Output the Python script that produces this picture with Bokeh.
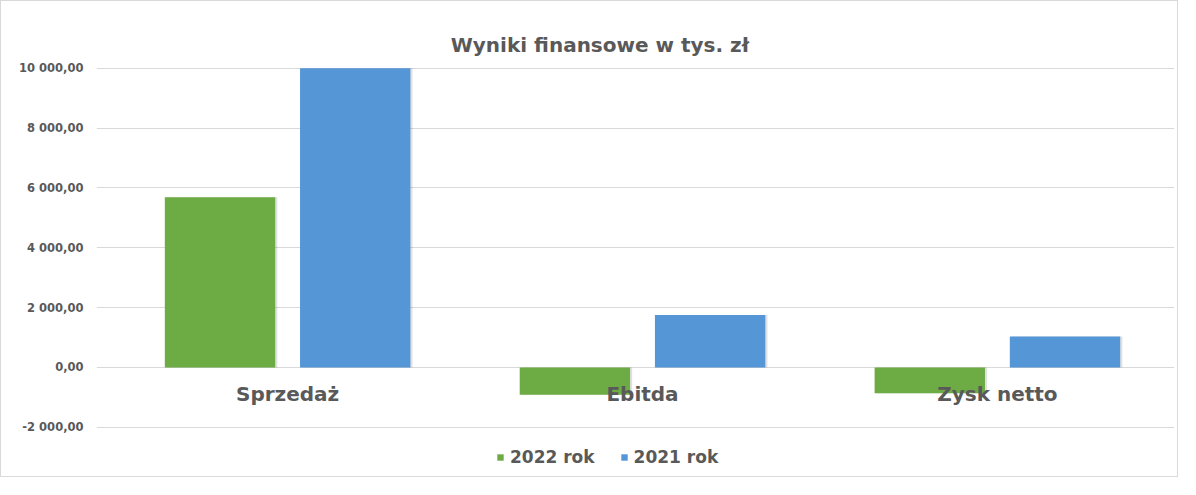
from bokeh.plotting import figure
from bokeh.models import ColumnDataSource, FixedTicker, Label, Legend, LegendItem
from bokeh.core.properties import value
from bokeh.embed import file_html
from bokeh.resources import INLINE

# ---- data ----
categories = ["Sprzedaż", "Ebitda", "Zysk netto"]
series_names = ["2022 rok", "2021 rok"]
values_2022 = [5690, -909, -866]
values_2021 = [10000, 1753, 1035]
y_ticks = [-2000, 0, 2000, 4000, 6000, 8000, 10000]
y_tick_labels = ["-2 000,00", "0,00", "2 000,00", "4 000,00", "6 000,00", "8 000,00", "10 000,00"]
title_text = "Wyniki finansowe w tys. zł"

# ---- style ----
FONT = "DejaVu Sans"
TXT = "#595959"
GREEN = "#6dab45"
BLUE = "#5496d6"
GRID = "#d9d9d9"
BAR_W = 0.311
OFF = 0.1905

xs = list(range(len(categories)))

# frame covers the full height; the value range is padded so that
# -2000 .. 10000 lands where the reference's plot area is
p = figure(width=1178, height=477, x_range=(-0.5385, 2.499), y_range=(-3711, 12229),
           output_backend="svg", toolbar_location=None,
           min_border_left=95, min_border_right=5, min_border_top=0, min_border_bottom=0)
p.outline_line_color = None
p.background_fill_color = "white"
p.border_fill_color = "white"
p.styles = {"border": "1px solid #d9d9d9"}

src = ColumnDataSource(dict(
    x22=[x - OFF for x in xs], x21=[x + OFF for x in xs],
    v22=values_2022, v21=values_2021,
    sh22=[x - OFF + 0.006 for x in xs], sh21=[x + OFF + 0.006 for x in xs],
))

# subtle shadows
for xcol, vcol in (("sh22", "v22"), ("sh21", "v21")):
    p.vbar(x=xcol, top=vcol, bottom=0, width=BAR_W, source=src,
           fill_color="#000000", fill_alpha=0.12, line_color=None)

r22 = p.vbar(x="x22", top="v22", bottom=0, width=BAR_W, source=src,
             fill_color=GREEN, line_color=None)
r21 = p.vbar(x="x21", top="v21", bottom=0, width=BAR_W, source=src,
             fill_color=BLUE, line_color=None)

# axes
p.xaxis.visible = False
ya = p.yaxis[0]
ya.ticker = FixedTicker(ticks=y_ticks)
ya.major_label_overrides = {t: l for t, l in zip(y_ticks, y_tick_labels)}
ya.axis_line_color = None
ya.major_tick_line_color = None
ya.minor_tick_line_color = None
ya.major_tick_out = 0
ya.major_tick_in = 0
ya.major_label_standoff = 13
ya.major_label_text_font = FONT
ya.major_label_text_font_style = "bold"
ya.major_label_text_font_size = "11.5px"
ya.major_label_text_color = TXT

p.xgrid.visible = False
p.ygrid.ticker = FixedTicker(ticks=y_ticks)
p.ygrid.grid_line_color = GRID
p.ygrid.grid_line_width = 1

# category labels
p.text(x=xs, y=[0] * len(xs), text=categories, y_offset=27,
       text_align="center", text_baseline="middle",
       text_font=value(FONT), text_font_style="bold", text_font_size="20px",
       text_color=TXT)

# title
p.add_layout(Label(x=0.880, y=10775, text=title_text,
                   text_align="center", text_baseline="alphabetic",
                   text_font=FONT, text_font_style="bold", text_font_size="20px",
                   text_color=TXT))

legend = Legend(items=[LegendItem(label=series_names[0], renderers=[r22]),
                       LegendItem(label=series_names[1], renderers=[r21])],
                orientation="horizontal", location=(400, 11),
                padding=0, margin=0, spacing=25, label_standoff=6,
                glyph_width=8, glyph_height=8, label_height=17,
                background_fill_alpha=0, border_line_color=None,
                label_text_font=FONT, label_text_font_style="bold",
                label_text_font_size="17px", label_text_color=TXT)
p.add_layout(legend, "center")

open("out.html", "w").write(file_html(p, INLINE))
